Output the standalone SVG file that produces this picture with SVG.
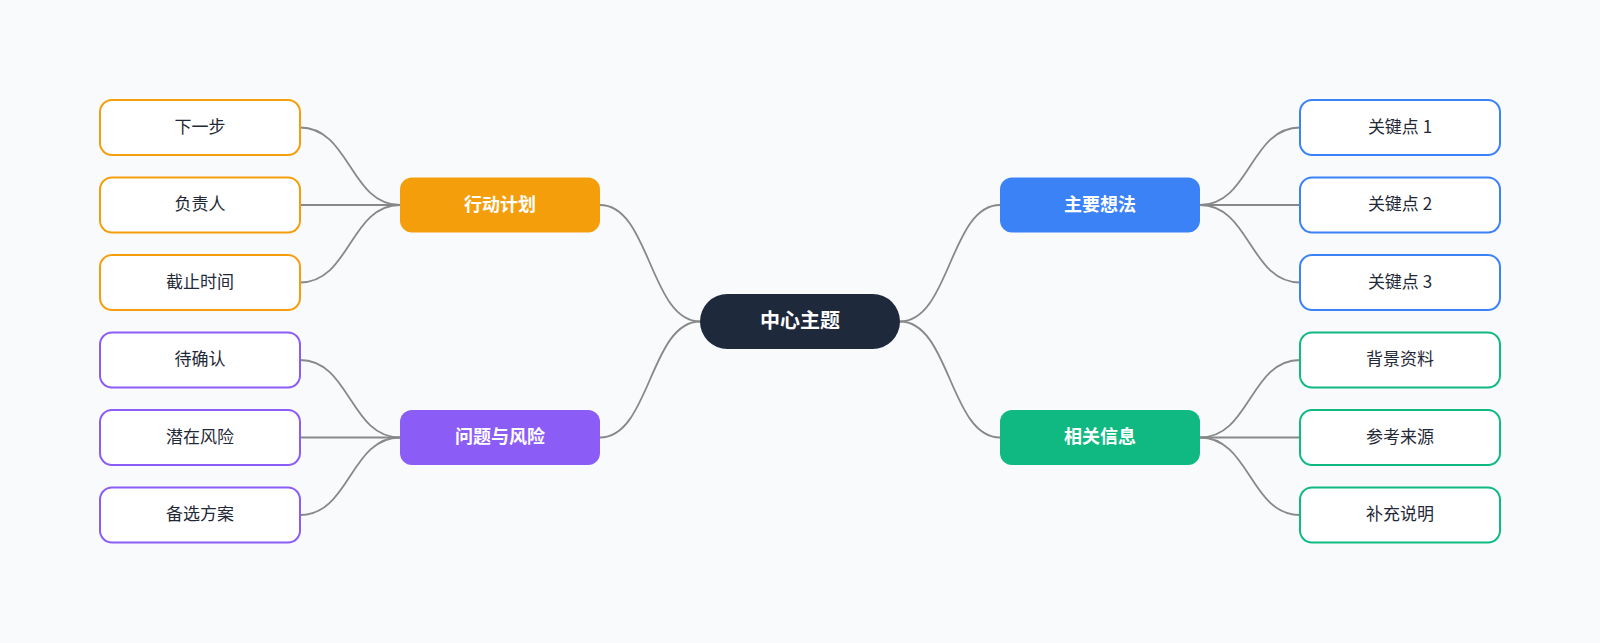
<svg xmlns="http://www.w3.org/2000/svg" width="1600" height="643" viewBox="0 0 1600 643">
<style>
text{font-family:"Noto Sans CJK SC","Liberation Sans",sans-serif;text-anchor:middle;dominant-baseline:central}
.leaf rect{fill:#ffffff;stroke-width:2}
.leaf text{font-size:17px;fill:#1f2937}
.branch text{font-size:18px;font-weight:bold;fill:#ffffff}
.center text{font-size:20px;font-weight:bold;fill:#ffffff}
.o rect{stroke:#f59e0b}.p rect{stroke:#8b5cf6}.b rect{stroke:#3b82f6}.g rect{stroke:#10b981}
#connectors path{fill:none;stroke:#888888;stroke-width:1.8}
</style>
<rect width="1600" height="643" fill="#f8fafc"/>
<g id="connectors">
<path d="M700,321.5 C650,321.5 650,205 600,205"/>
<path d="M700,321.5 C650,321.5 650,437.5 600,437.5"/>
<path d="M900,321.5 C950,321.5 950,205 1000,205"/>
<path d="M900,321.5 C950,321.5 950,437.5 1000,437.5"/>
<path d="M400,205 C350,205 350,127.5 300,127.5"/>
<path d="M400,205 L300,205"/>
<path d="M400,205 C350,205 350,282.5 300,282.5"/>
<path d="M400,437.5 C350,437.5 350,360 300,360"/>
<path d="M400,437.5 L300,437.5"/>
<path d="M400,437.5 C350,437.5 350,515 300,515"/>
<path d="M1200,205 C1250,205 1250,127.5 1300,127.5"/>
<path d="M1200,205 L1300,205"/>
<path d="M1200,205 C1250,205 1250,282.5 1300,282.5"/>
<path d="M1200,437.5 C1250,437.5 1250,360 1300,360"/>
<path d="M1200,437.5 L1300,437.5"/>
<path d="M1200,437.5 C1250,437.5 1250,515 1300,515"/>
</g>
<g id="center" class="center"><rect x="700" y="294" width="200" height="55" rx="27.5" fill="#1e293b"/><text x="800" y="319">中心主题</text></g>
<g id="branch-action" class="branch"><rect x="400" y="177.5" width="200" height="55" rx="12" fill="#f59e0b"/><text x="500" y="202.5">行动计划</text></g>
<g id="branch-risk" class="branch"><rect x="400" y="410" width="200" height="55" rx="12" fill="#8b5cf6"/><text x="500" y="435">问题与风险</text></g>
<g id="branch-idea" class="branch"><rect x="1000" y="177.5" width="200" height="55" rx="12" fill="#3b82f6"/><text x="1100" y="202.5">主要想法</text></g>
<g id="branch-info" class="branch"><rect x="1000" y="410" width="200" height="55" rx="12" fill="#10b981"/><text x="1100" y="435">相关信息</text></g>
<g id="leaf-next" class="leaf o"><rect x="100" y="100" width="200" height="55" rx="12"/><text x="200" y="125">下一步</text></g>
<g id="leaf-owner" class="leaf o"><rect x="100" y="177.5" width="200" height="55" rx="12"/><text x="200" y="202.5">负责人</text></g>
<g id="leaf-deadline" class="leaf o"><rect x="100" y="255" width="200" height="55" rx="12"/><text x="200" y="280">截止时间</text></g>
<g id="leaf-confirm" class="leaf p"><rect x="100" y="332.5" width="200" height="55" rx="12"/><text x="200" y="357.5">待确认</text></g>
<g id="leaf-risk" class="leaf p"><rect x="100" y="410" width="200" height="55" rx="12"/><text x="200" y="435">潜在风险</text></g>
<g id="leaf-alt" class="leaf p"><rect x="100" y="487.5" width="200" height="55" rx="12"/><text x="200" y="512.5">备选方案</text></g>
<g id="leaf-k1" class="leaf b"><rect x="1300" y="100" width="200" height="55" rx="12"/><text x="1400" y="125">关键点 1</text></g>
<g id="leaf-k2" class="leaf b"><rect x="1300" y="177.5" width="200" height="55" rx="12"/><text x="1400" y="202.5">关键点 2</text></g>
<g id="leaf-k3" class="leaf b"><rect x="1300" y="255" width="200" height="55" rx="12"/><text x="1400" y="280">关键点 3</text></g>
<g id="leaf-bg" class="leaf g"><rect x="1300" y="332.5" width="200" height="55" rx="12"/><text x="1400" y="357.5">背景资料</text></g>
<g id="leaf-ref" class="leaf g"><rect x="1300" y="410" width="200" height="55" rx="12"/><text x="1400" y="435">参考来源</text></g>
<g id="leaf-more" class="leaf g"><rect x="1300" y="487.5" width="200" height="55" rx="12"/><text x="1400" y="512.5">补充说明</text></g>
</svg>
